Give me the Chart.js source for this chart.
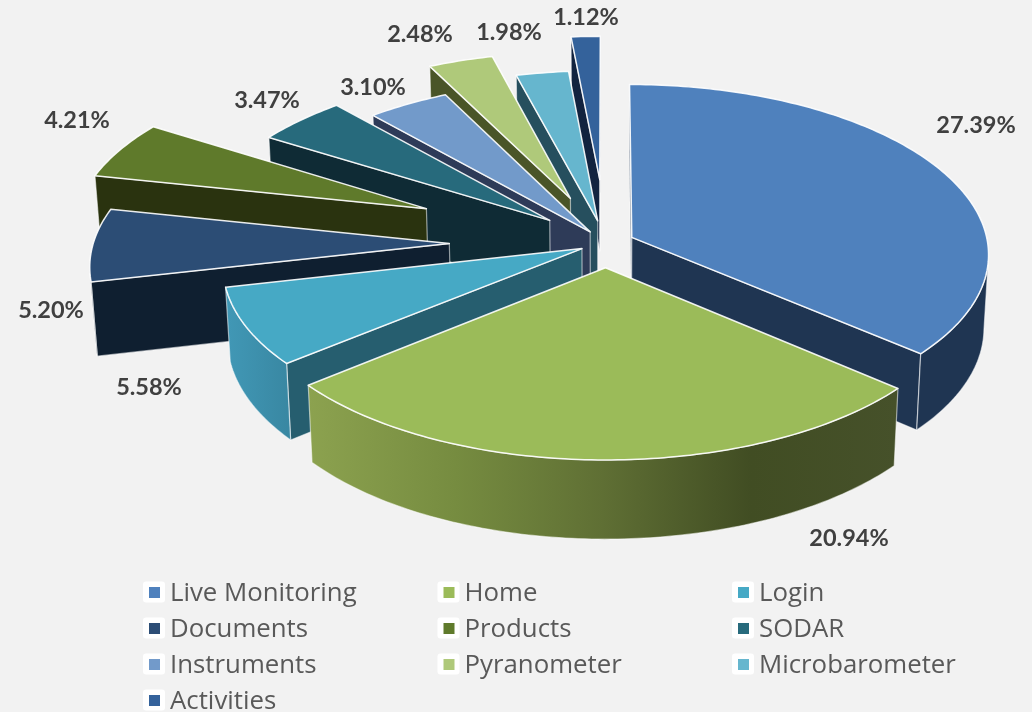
<!DOCTYPE html>
<html>
<head>
<meta charset="utf-8">
<style>
  html, body { margin: 0; background: #f2f2f2; }
  canvas { display: block; }
</style>
<script src="https://cdn.jsdelivr.net/npm/chart.js@4/dist/chart.umd.min.js"></script>
</head>
<body>
<canvas id="pie" width="1032" height="712"></canvas>
<script>
const categories = ['Live Monitoring', 'Home', 'Login', 'Documents', 'Products', 'SODAR', 'Instruments', 'Pyranometer', 'Microbarometer', 'Activities'];
const values = [27.39, 20.94, 5.58, 5.20, 4.21, 3.47, 3.10, 2.48, 1.98, 1.12];

// how far each slice is pulled out, percent of the radius
const explode = [8, 14.5, 7.5, 44, 55.5, 21, 8, 29, 13.5, 39];

const topColors = ['#4f81bd', '#9bbb59', '#46a9c5', '#2c4d75', '#5f7a2b', '#276a7c', '#729aca', '#afc97a', '#66b6ce', '#34629b'];
const cutColors = ['#1f3552', '#3f4a20', '#265e6f', '#0f1f30', '#2a330f', '#0f2b35', '#2e3b58', '#4a5528', '#264f5e', '#12233f'];
const wallStops = {
  0: ['#1f3552', '#1f3552'],
  1: ['#8ca24f', '#768c40', '#5f6f34', '#414d23', '#46512a'],
  2: ['#4198b6', '#3988a3']
};
const drawOrder = [9, 8, 7, 6, 5, 4, 3, 2, 0, 1];

// label centres
const labelX = [976, 849, 149, 51, 77, 267, 373, 420, 509, 586];
const labelY = [125, 538, 387, 310, 120, 100, 87, 34, 32, 17];

// camera for the tilted pie
const view = { cx: 606, cy: 243, sx: 356, sy: 168.6, persp: 0.0963, depth: 74, sink: 0.012 };

const project = (X, Y, Z) => {
  const w = 1 - view.persp * Y + view.sink * Z;
  return [view.cx + view.sx * X / w, view.cy + (view.sy * Y + view.depth * Z) / w];
};

function fillPoly(ctx, pts, fill, edge, width) {
  ctx.beginPath();
  pts.forEach((p, i) => i ? ctx.lineTo(p[0], p[1]) : ctx.moveTo(p[0], p[1]));
  ctx.closePath();
  ctx.fillStyle = fill;
  ctx.fill();
  ctx.strokeStyle = edge;
  ctx.lineWidth = width;
  ctx.lineJoin = 'round';
  ctx.stroke();
}

function drawSlice(ctx, arc, i) {
  const e = arc.options.offset / 100;
  const mid = (arc.startAngle + arc.endAngle) / 2;
  const ax = e * Math.cos(mid), ay = e * Math.sin(mid);
  const steps = Math.max(6, Math.ceil((arc.endAngle - arc.startAngle) * 60));
  const rim = [];
  for (let k = 0; k <= steps; k++) {
    const a = arc.startAngle + (arc.endAngle - arc.startAngle) * k / steps;
    rim.push([ax + Math.cos(a), ay + Math.sin(a)]);
  }
  const top = p => project(p[0], p[1], 0);
  const low = p => project(p[0], p[1], 1);
  const apex = [ax, ay];
  const first = rim[0], last = rim[steps];
  const soft = 'rgba(255,255,255,0.55)';

  // cut faces, only the ones turned towards the viewer
  if (top(first)[0] < top(apex)[0]) fillPoly(ctx, [top(apex), top(first), low(first), low(apex)], cutColors[i], soft, 1.2);
  if (top(apex)[0] < top(last)[0]) fillPoly(ctx, [top(last), top(apex), low(apex), low(last)], cutColors[i], soft, 1.2);

  // outer wall
  const front = rim.filter((p, k) => k < steps ? top(rim[k + 1])[0] < top(p)[0] : top(p)[0] < top(rim[k - 1])[0]);
  if (front.length > 1) {
    let fill = cutColors[i];
    if (wallStops[i]) {
      const x0 = top(front[front.length - 1])[0], x1 = top(front[0])[0];
      fill = ctx.createLinearGradient(x0, 0, x1, 0);
      wallStops[i].forEach((c, k) => fill.addColorStop(k / (wallStops[i].length - 1), c));
    }
    fillPoly(ctx, front.map(top).concat(front.slice().reverse().map(low)), fill, soft, 1.2);
  }

  fillPoly(ctx, [top(apex)].concat(rim.map(top)), topColors[i], 'rgba(255,255,255,0.9)', 1.5);
}

const pie3d = {
  id: 'pie3d',
  beforeDatasetsDraw(chart) {
    const ctx = chart.ctx;
    const arcs = chart.getDatasetMeta(0).data;
    drawOrder.forEach(i => drawSlice(ctx, arcs[i], i));
    return false;
  },
  afterDraw(chart) {
    const ctx = chart.ctx;
    ctx.save();
    ctx.textBaseline = 'middle';

    ctx.font = '700 23.5px Lato';
    ctx.fillStyle = '#404040';
    ctx.textAlign = 'center';
    values.forEach((v, i) => ctx.fillText(v.toFixed(2) + '%', labelX[i], labelY[i]));

    // legend keeps three even columns, which the built-in one can't do
    ctx.font = '25.8px "Open Sans"';
    ctx.textAlign = 'left';
    categories.forEach((name, i) => {
      const x = 143 + (i % 3) * 294.5;
      const y = 592 + Math.floor(i / 3) * 36;
      ctx.fillStyle = '#ffffff';
      ctx.beginPath();
      ctx.roundRect(x, y - 10.5, 22, 21, 3);
      ctx.fill();
      ctx.fillStyle = topColors[i];
      ctx.fillRect(x + 6, y - 5, 11, 11);
      ctx.fillStyle = '#595959';
      ctx.fillText(name, x + 27, y + 2);
    });
    ctx.restore();
  }
};

new Chart(document.getElementById('pie'), {
  type: 'pie',
  data: {
    labels: categories,
    datasets: [{
      data: values,
      offset: explode,
      backgroundColor: topColors
    }]
  },
  options: {
    responsive: false,
    animation: false,
    plugins: {
      legend: { display: false },
      tooltip: { enabled: false }
    }
  },
  plugins: [pie3d]
});
</script>
</body>
</html>
